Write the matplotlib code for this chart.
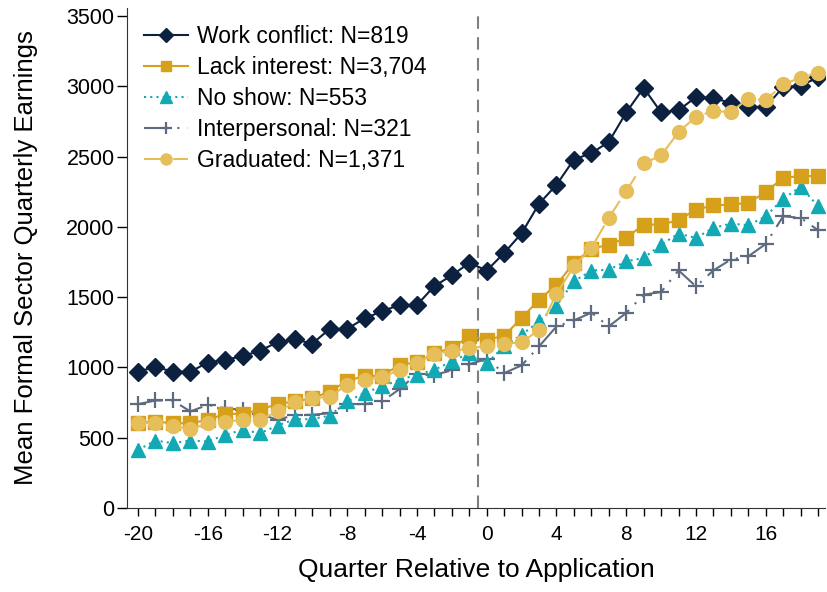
import numpy as np
import matplotlib.pyplot as plt

# quarters relative to application
quarters = np.arange(-20, 20)

work_conflict = [970, 1005, 970, 970, 1035, 1055, 1080, 1120, 1180, 1200,
                 1170, 1275, 1275, 1350, 1400, 1445, 1445, 1580, 1655, 1745,
                 1690, 1815, 1955, 2165, 2300, 2480, 2525, 2605, 2815, 2990,
                 2815, 2830, 2925, 2915, 2885, 2855, 2855, 2995, 3005, 3065]
lack_interest = [608, 615, 603, 603, 627, 670, 670, 698, 741, 758,
                 781, 829, 905, 940, 941, 1019, 1036, 1102, 1138, 1221,
                 1197, 1226, 1352, 1482, 1589, 1744, 1844, 1874, 1922, 2017,
                 2017, 2048, 2124, 2153, 2160, 2171, 2248, 2350, 2362, 2362]
no_show = [413, 480, 461, 480, 473, 520, 556, 532, 587, 632,
           632, 658, 758, 820, 865, 912, 948, 984, 1043, 1102,
           1031, 1150, 1233, 1328, 1440, 1613, 1690, 1696, 1756, 1779,
           1874, 1953, 1922, 1993, 2024, 2012, 2076, 2200, 2286, 2148]
interpersonal = [739, 765, 765, 687, 734, 710, 698, 670, 627, 663,
                 663, 675, 739, 740, 758, 846, 955, 948, 979, 1024,
                 1060, 960, 1015, 1150, 1292, 1335, 1390, 1293, 1388, 1518,
                 1537, 1691, 1577, 1691, 1768, 1791, 1879, 2076, 2065, 1977]
graduated = [603, 608, 584, 561, 603, 615, 627, 627, 687, 751,
             781, 793, 877, 912, 929, 984, 1031, 1098, 1114, 1138,
             1150, 1169, 1178, 1269, 1525, 1720, 1851, 2065, 2255, 2452,
             2509, 2675, 2785, 2825, 2818, 2913, 2903, 3015, 3063, 3098]

labels = ["Work conflict: N=819", "Lack interest: N=3,704", "No show: N=553",
          "Interpersonal: N=321", "Graduated: N=1,371"]

plt.rcParams['font.family'] = ['Liberation Sans', 'DejaVu Sans']
plt.rcParams['axes.unicode_minus'] = False

fig = plt.figure(figsize=(8.27, 5.92), dpi=100)
ax = fig.add_axes([0.1536, 0.1419, 0.844, 0.845])

ax.axvline(-0.5, color='#7f7f7f', linestyle=(0, (6, 4)), linewidth=1.5, zorder=1)

ax.plot(quarters, work_conflict, color='#0B213F', marker='D', markersize=9.5,
        linewidth=1.5, label=labels[0], zorder=6)
ax.plot(quarters, lack_interest, color='#D6A01A', marker='s', markersize=9.5,
        linewidth=1.5, label=labels[1], zorder=5)
ax.plot(quarters, no_show, color='#12A8B4', marker='^', markersize=10,
        linewidth=1.5, linestyle=(0, (1, 2)), label=labels[2], zorder=4)
ax.plot(quarters, interpersonal, color='#5E6A7E', marker='+', markersize=11,
        markeredgewidth=1.6, linewidth=1.5, linestyle=(0, (12, 4, 1, 4)),
        label=labels[3], zorder=3)
ax.plot(quarters, graduated, color='#E6BF5B', marker='o', markersize=10,
        linewidth=1.5, linestyle=(0, (10, 4)), label=labels[4], zorder=7)

ax.set_xlim(-20.63, 19.4)
ax.set_ylim(0, 3560)
ax.set_xticks(np.arange(-20, 17, 4))
ax.set_xticks(quarters, minor=True)
ax.set_yticks(np.arange(0, 3501, 500))
ax.tick_params(axis='x', which='major', length=6, width=1, labelsize=15, pad=6)
ax.tick_params(axis='x', which='minor', length=6, width=1)
ax.tick_params(axis='y', length=7, width=1, labelsize=15.5, pad=2)

for s in ['top', 'right']:
    ax.spines[s].set_visible(False)
ax.spines['left'].set_color('#333333')
ax.spines['bottom'].set_color('#333333')

ax.set_xlabel("Quarter Relative to Application", fontsize=19, labelpad=10)
ax.set_ylabel("Mean Formal Sector Quarterly Earnings", fontsize=18.5, labelpad=20)

ax.legend(loc='upper left', bbox_to_anchor=(0.0, 1.0), frameon=False,
          fontsize=16.5, handlelength=1.9, handletextpad=0.4, markerscale=0.8,
          labelspacing=0.35, borderaxespad=0.35)

fig.savefig("out.png", dpi=100)
